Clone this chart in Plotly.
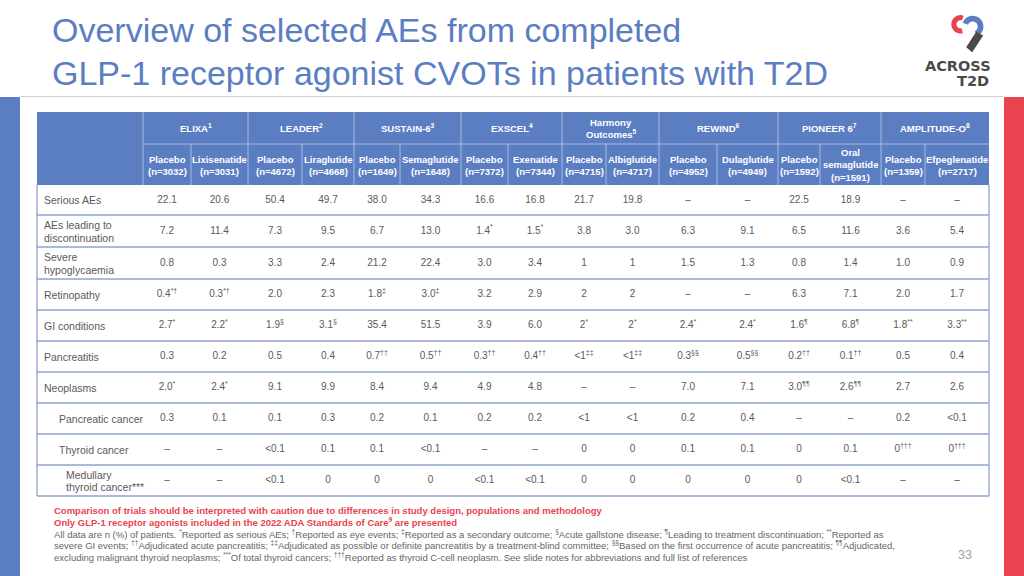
import math
import plotly.graph_objects as go

# ---------------- data ----------------
trials = ["ELIXA", "LEADER", "SUSTAIN-6", "EXSCEL", "Harmony Outcomes",
          "REWIND", "PIONEER 6", "AMPLITUDE-O"]
trial_refs = ["1", "2", "3", "4", "5", "6", "7", "8"]
arms = ["Placebo", "Lixisenatide", "Placebo", "Liraglutide", "Placebo", "Semaglutide",
        "Placebo", "Exenatide", "Placebo", "Albiglutide", "Placebo", "Dulaglutide",
        "Placebo", "Oral semaglutide", "Placebo", "Efpeglenatide"]
arm_n = [3032, 3031, 4672, 4668, 1649, 1648, 7372, 7344, 4715, 4717,
         4952, 4949, 1592, 1591, 1359, 2717]

row_labels = ["Serious AEs", "AEs leading to|discontinuation", "Severe|hypoglycaemia",
              "Retinopathy", "GI conditions", "Pancreatitis", "Neoplasms",
              "Pancreatic cancer", "Thyroid cancer", "Medullary|thyroid cancer***"]
row_level = [0, 0, 0, 0, 0, 0, 0, 1, 1, 2]

serious_aes = ["22.1", "20.6", "50.4", "49.7", "38.0", "34.3", "16.6", "16.8",
               "21.7", "19.8", "–", "–", "22.5", "18.9", "–", "–"]
aes_discontinuation = ["7.2", "11.4", "7.3", "9.5", "6.7", "13.0", "1.4*", "1.5*",
                       "3.8", "3.0", "6.3", "9.1", "6.5", "11.6", "3.6", "5.4"]
severe_hypo = ["0.8", "0.3", "3.3", "2.4", "21.2", "22.4", "3.0", "3.4",
               "1", "1", "1.5", "1.3", "0.8", "1.4", "1.0", "0.9"]
retinopathy = ["0.4*†", "0.3*†", "2.0", "2.3", "1.8‡", "3.0‡", "3.2", "2.9",
               "2", "2", "–", "–", "6.3", "7.1", "2.0", "1.7"]
gi_conditions = ["2.7*", "2.2*", "1.9§", "3.1§", "35.4", "51.5", "3.9", "6.0",
                 "2*", "2*", "2.4*", "2.4*", "1.6¶", "6.8¶", "1.8**", "3.3**"]
pancreatitis = ["0.3", "0.2", "0.5", "0.4", "0.7††", "0.5††", "0.3††", "0.4††",
                "<1‡‡", "<1‡‡", "0.3§§", "0.5§§", "0.2††", "0.1††", "0.5", "0.4"]
neoplasms = ["2.0*", "2.4*", "9.1", "9.9", "8.4", "9.4", "4.9", "4.8",
             "–", "–", "7.0", "7.1", "3.0¶¶", "2.6¶¶", "2.7", "2.6"]
pancreatic_cancer = ["0.3", "0.1", "0.1", "0.3", "0.2", "0.1", "0.2", "0.2",
                     "<1", "<1", "0.2", "0.4", "–", "–", "0.2", "<0.1"]
thyroid_cancer = ["–", "–", "<0.1", "0.1", "0.1", "<0.1", "–", "–",
                  "0", "0", "0.1", "0.1", "0", "0.1", "0†††", "0†††"]
medullary_thyroid = ["–", "–", "<0.1", "0", "0", "0", "<0.1", "<0.1",
                     "0", "0", "0", "0", "0", "<0.1", "–", "–"]

table_rows = [serious_aes, aes_discontinuation, severe_hypo, retinopathy, gi_conditions,
              pancreatitis, neoplasms, pancreatic_cancer, thyroid_cancer, medullary_thyroid]

title_lines = ["Overview of selected AEs from completed",
               "GLP-1 receptor agonist CVOTs in patients with T2D"]
caution_lines = ["Comparison of trials should be interpreted with caution due to differences in study design, populations and methodology",
                 "Only GLP-1 receptor agonists included in the 2022 ADA Standards of Care<sup>9</sup> are presented"]
note_lines = [
    "All data are n (%) of patients. <sup>*</sup>Reported as serious AEs; <sup>†</sup>Reported as eye events; <sup>‡</sup>Reported as a secondary outcome; <sup>§</sup>Acute gallstone disease; <sup>¶</sup>Leading to treatment discontinuation; <sup>**</sup>Reported as",
    "severe GI events; <sup>††</sup>Adjudicated acute pancreatitis; <sup>‡‡</sup>Adjudicated as possible or definite pancreatitis by a treatment-blind committee; <sup>§§</sup>Based on the first occurrence of acute pancreatitis; <sup>¶¶</sup>Adjudicated,",
    "excluding malignant thyroid neoplasms; <sup>***</sup>Of total thyroid cancers; <sup>†††</sup>Reported as thyroid C-cell neoplasm. See slide notes for abbreviations and full list of references",
]
page_number = "33"

# ---------------- style / layout ----------------
FONT = "Liberation Sans, Arial, Helvetica, sans-serif"
BLUE = "#5b7ec3"
RED = "#e8434f"
TXT = "#5a5a5a"
LINE = "#8fa3d0"
HDR_LINE = "#a7b9e0"

x_start = 37
col_w = [106, 48, 57, 54, 52, 46, 61, 47, 54, 44, 53, 58, 61, 42, 61, 44, 64]
col_edges = [x_start]
for w in col_w:
    col_edges.append(col_edges[-1] + w)
hdr_top, hdr_mid, hdr_bot = 112, 144, 185
row_h = [30, 32, 32, 31, 31, 31, 31, 31, 31, 31]
row_edges = [hdr_bot]
for h in row_h:
    row_edges.append(row_edges[-1] + h)
x_end = col_edges[-1]


def sup_split(s):
    marks = "*†‡§¶"
    i = len(s)
    while i > 0 and s[i - 1] in marks:
        i -= 1
    if i < len(s):
        return s[:i] + "<sup>" + s[i:] + "</sup>"
    return s


shapes = []
annotations = []

# page decorations
shapes.append(dict(type="rect", x0=0, x1=20, y0=97, y1=576, fillcolor=BLUE, line_width=0, layer="below"))
shapes.append(dict(type="rect", x0=1004, x1=1024, y0=97, y1=576, fillcolor=RED, line_width=0, layer="below"))
shapes.append(dict(type="line", x0=20, x1=1004, y0=96.5, y1=96.5, line=dict(color="#d0d0d0", width=1)))

# title
for i, t in enumerate(title_lines):
    annotations.append(dict(x=50, y=30 + i * 43, text=t, showarrow=False, xanchor="left", yanchor="middle",
                            font=dict(family=FONT, size=34, color=BLUE)))

# header background
shapes.append(dict(type="rect", x0=x_start, x1=x_end, y0=hdr_top, y1=hdr_bot, fillcolor=BLUE, line_width=0, layer="below"))
# header separators
shapes.append(dict(type="line", x0=col_edges[1], x1=x_end, y0=hdr_mid, y1=hdr_mid, line=dict(color=HDR_LINE, width=1)))
for k in range(1, len(col_edges) - 1):
    top = hdr_top if (k % 2 == 1) else hdr_mid
    shapes.append(dict(type="line", x0=col_edges[k], x1=col_edges[k], y0=top, y1=hdr_bot,
                       line=dict(color=HDR_LINE, width=1)))

# trial names
for t, (name, ref) in enumerate(zip(trials, trial_refs)):
    cx = (col_edges[1 + 2 * t] + col_edges[3 + 2 * t]) / 2
    if name == "Harmony Outcomes":
        parts = name.split(" ")
        annotations.append(dict(x=cx, y=122, text="<b>" + parts[0] + "</b>", showarrow=False,
                                font=dict(family=FONT, size=9.5, color="white")))
        annotations.append(dict(x=cx, y=134, text="<b>" + parts[1] + "<sup>" + ref + "</sup></b>", showarrow=False,
                                font=dict(family=FONT, size=9.5, color="white")))
    else:
        annotations.append(dict(x=cx, y=128, text="<b>" + name + "<sup>" + ref + "</sup></b>", showarrow=False,
                                font=dict(family=FONT, size=9.5, color="white")))

# arm labels
for j, (a, n) in enumerate(zip(arms, arm_n)):
    cx = (col_edges[1 + j] + col_edges[2 + j]) / 2
    lines = a.split(" ") + ["(n=%d)" % n]
    ys = [159, 171] if len(lines) == 2 else [152, 164.5, 177]
    for ln, yy in zip(lines, ys):
        annotations.append(dict(x=cx, y=yy, text="<b>" + ln + "</b>", showarrow=False,
                                font=dict(family=FONT, size=9.5, color="white")))

# body lines
for r in range(1, len(row_edges)):
    shapes.append(dict(type="line", x0=x_start, x1=x_end, y0=row_edges[r], y1=row_edges[r],
                       line=dict(color=LINE, width=1.3)))
shapes.append(dict(type="line", x0=x_start, x1=x_start, y0=hdr_bot, y1=row_edges[-1], line=dict(color=LINE, width=1.3)))
shapes.append(dict(type="line", x0=x_end, x1=x_end, y0=hdr_bot, y1=row_edges[-1], line=dict(color=LINE, width=1.3)))

# row labels
indent = {0: 42, 1: 57, 2: 64}
for r, (lab, lvl) in enumerate(zip(row_labels, row_level)):
    cy = (row_edges[r] + row_edges[r + 1]) / 2
    parts = lab.split("|")
    if len(parts) == 1:
        ys = [cy]
    else:
        ys = [cy - 6, cy + 6.5]
    for p, yy in zip(parts, ys):
        annotations.append(dict(x=indent[lvl], y=yy, text=p, showarrow=False, xanchor="left",
                                font=dict(family=FONT, size=10.5, color=TXT)))

# body values via scatter text
xs, ys, texts = [], [], []
for r, vals in enumerate(table_rows):
    cy = (row_edges[r] + row_edges[r + 1]) / 2
    for j, v in enumerate(vals):
        xs.append((col_edges[1 + j] + col_edges[2 + j]) / 2)
        ys.append(cy)
        texts.append(sup_split(v))

fig = go.Figure()
fig.add_trace(go.Scatter(x=xs, y=ys, text=texts, mode="text", textposition="middle center",
                         textfont=dict(family=FONT, size=10, color=TXT), hoverinfo="skip", showlegend=False))

# footnotes
for i, t in enumerate(caution_lines):
    annotations.append(dict(x=52, y=510 + i * 11.5, text="<b>" + t + "</b>", showarrow=False, xanchor="left",
                            font=dict(family=FONT, size=9.5, color=RED)))
for i, t in enumerate(note_lines):
    annotations.append(dict(x=52, y=533.5 + i * 11.8, text=t, showarrow=False, xanchor="left",
                            font=dict(family=FONT, size=9.5, color="#666666")))
annotations.append(dict(x=965, y=555, text=page_number, showarrow=False,
                        font=dict(family=FONT, size=12.5, color="#a0a0a0")))


# logo
def ring_path(cx, cy, r_out, r_in, a0, a1, steps=40):
    pts = []
    for k in range(steps + 1):
        a = math.radians(a0 + (a1 - a0) * k / steps)
        pts.append((cx + r_out * math.cos(a), cy + r_out * math.sin(a)))
    for k in range(steps + 1):
        a = math.radians(a1 - (a1 - a0) * k / steps)
        pts.append((cx + r_in * math.cos(a), cy + r_in * math.sin(a)))
    return "M " + " L ".join("%.2f,%.2f" % p for p in pts) + " Z"


shapes.append(dict(type="path", path=ring_path(960.5, 24.3, 9.2, 4, 75, 290), fillcolor="#e8434f", line_width=0))
shapes.append(dict(type="path", path=ring_path(972.7, 26.5, 10.7, 5, 200, 425), fillcolor="#5b7ec3", line_width=0))
shapes.append(dict(type="path", path="M 983.2,35.5 L 976.2,31.8 L 966.2,47.2 L 972.2,52.2 Z",
                   fillcolor="#4a4a4a", line_width=0))
annotations.append(dict(x=958, y=66, text="<b>ACROSS</b>", showarrow=False,
                        font=dict(family="DejaVu Sans, sans-serif", size=14.5, color="#4a4a4a")))
annotations.append(dict(x=991, y=80.5, text="<b>T2D</b>", showarrow=False, xanchor="right",
                        font=dict(family="DejaVu Sans, sans-serif", size=14.5, color="#4a4a4a")))

fig.update_layout(
    width=1024, height=576,
    margin=dict(l=0, r=0, t=0, b=0),
    paper_bgcolor="white", plot_bgcolor="white",
    xaxis=dict(range=[0, 1024], visible=False, fixedrange=True),
    yaxis=dict(range=[576, 0], visible=False, fixedrange=True),
    shapes=shapes, annotations=annotations,
    showlegend=False,
)
fig.write_html("out.html", config={"displayModeBar": False},
               post_script="document.body.style.margin='0';document.body.style.overflow='hidden';")
